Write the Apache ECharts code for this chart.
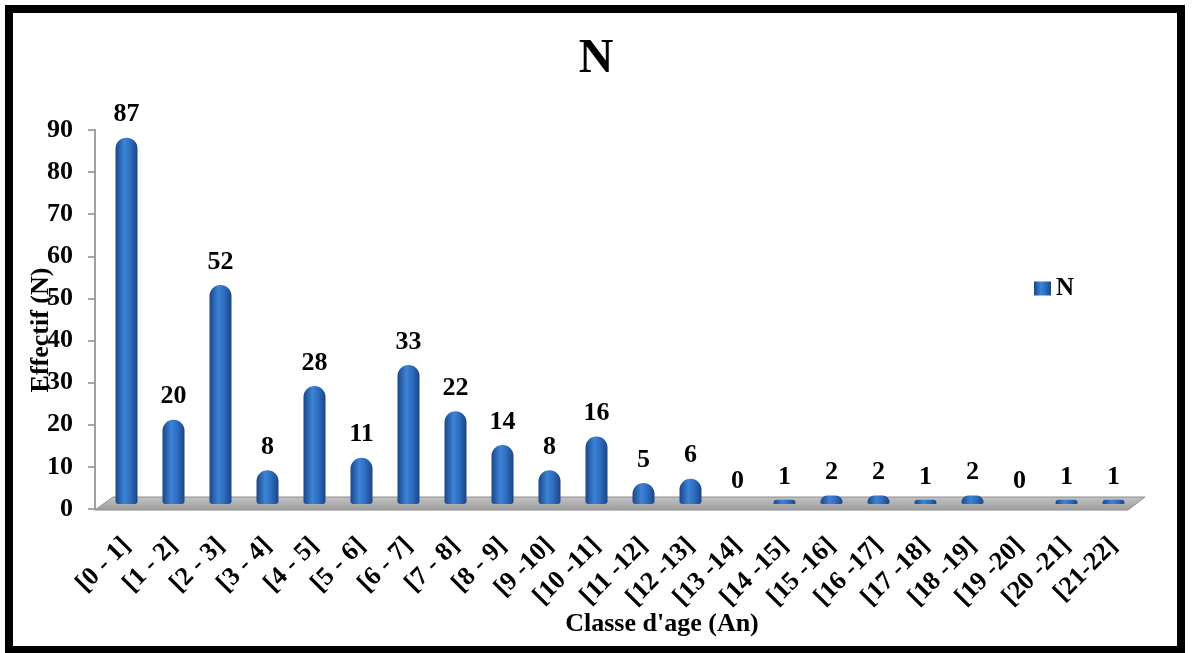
<!DOCTYPE html>
<html>
<head>
<meta charset="utf-8">
<script src="https://cdn.jsdelivr.net/npm/echarts@6/dist/echarts.min.js"></script>
<style>
html,body{margin:0;padding:0;background:#fff;}
#c{width:1192px;height:653px;}
</style>
</head>
<body>
<div id="c"></div>
<script>
const categories = ["[0 - 1]","[1 - 2]","[2 - 3]","[3 - 4]","[4 - 5]","[5 - 6]","[6 - 7]","[7 - 8]","[8 - 9]","[9 -10]","[10 -11]","[11 -12]","[12 -13]","[13 -14]","[14 -15]","[15 -16]","[16 -17]","[17 -18]","[18 -19]","[19 -20]","[20 -21]","[21-22]"];
const values = [87,20,52,8,28,11,33,22,14,8,16,5,6,0,1,2,2,1,2,0,1,1];
const seriesName = "N";
const chartTitle = "N";
const xAxisTitle = "Classe d'age (An)";
const yAxisTitle = "Effectif (N)";
const yTicks = {min:0, max:90, interval:10};

const FONT = '"Liberation Serif","Times New Roman",serif';
const chart = echarts.init(document.getElementById('c'));

const barGrad = new echarts.graphic.LinearGradient(0,0,1,0,[
  {offset:0,color:'#1a4687'},
  {offset:0.4,color:'#3d83d6'},
  {offset:0.65,color:'#2f6fc3'},
  {offset:1,color:'#1a4584'}
]);

const GL = 103, GR = 55, GT = 130, GB = 144, SHIFT = 5;

chart.setOption({
  backgroundColor:'#fff',
  animation:false,
  title:{
    text:chartTitle, left:'center', top:31,
    textStyle:{fontFamily:FONT,fontWeight:'bold',fontSize:48,color:'#000'}
  },
  legend:{
    data:[seriesName], left:1029, top:271, itemWidth:17, itemHeight:14, itemGap:4,
    icon:'rect',
    textStyle:{fontFamily:FONT,fontWeight:'bold',fontSize:25,color:'#000'}
  },
  grid:[
    {left:GL,right:GR,top:GT,bottom:GB},
    {left:GL,right:GR,top:GT-SHIFT,bottom:GB+SHIFT}
  ],
  xAxis:[
    {type:'category',gridIndex:0,data:categories,
      axisLine:{show:false},axisTick:{show:false},
      axisLabel:{rotate:45,margin:33,interval:0,fontFamily:FONT,fontWeight:'bold',fontSize:26,color:'#000'}},
    {type:'category',gridIndex:1,data:categories,show:false}
  ],
  yAxis:[
    {type:'value',gridIndex:0,min:yTicks.min,max:yTicks.max,interval:yTicks.interval,offset:8,
      axisLine:{show:true,lineStyle:{color:'#a0a0a0',width:2}},
      axisTick:{show:true,length:7,lineStyle:{color:'#8a8a8a',width:1.5}},
      splitLine:{show:false},
      axisLabel:{margin:22,fontFamily:FONT,fontWeight:'bold',fontSize:26,color:'#000'}},
    {type:'value',gridIndex:1,min:yTicks.min,max:yTicks.max,show:false,splitLine:{show:false}}
  ],
  series:[{
    name:seriesName,type:'bar',xAxisIndex:1,yAxisIndex:1,data:values,
    barWidth:22,z:3,
    itemStyle:{color:barGrad,borderRadius:[11,11,3,3]},
    label:{show:true,position:'top',distance:10,fontFamily:FONT,fontWeight:'bold',fontSize:26,color:'#000'}
  }],
  graphic:[]
});

const rect = chart.getModel().getComponent('grid',0).coordinateSystem.getRect();
const y0 = chart.convertToPixel({yAxisIndex:0}, 0);
const xr = rect.x + rect.width;
chart.setOption({
  graphic:[
    {type:'polygon',z:0,silent:true,
      shape:{points:[[rect.x-8,y0+1],[xr-9,y0+1],[xr+8,y0-12],[rect.x+10,y0-12]]},
      style:{fill:new echarts.graphic.LinearGradient(0,0,0,1,[{offset:0,color:'#c4c4c4'},{offset:1,color:'#9c9c9c'}]),stroke:'#8e8e8e',lineWidth:1}},
    {type:'text',z:10,x:662,y:624,
      style:{text:xAxisTitle,fontFamily:FONT,fontWeight:'bold',fontSize:26,fill:'#000',align:'center',verticalAlign:'middle'}},
    {type:'text',z:10,x:41,y:330,rotation:Math.PI/2,
      style:{text:yAxisTitle,fontFamily:FONT,fontWeight:'bold',fontSize:26,fill:'#000',align:'center',verticalAlign:'middle'}},
    {type:'rect',z:20,silent:true,shape:{x:9,y:9,width:1172,height:641},
      style:{fill:'none',stroke:'#000',lineWidth:8}}
  ]
});
</script>
</body>
</html>
